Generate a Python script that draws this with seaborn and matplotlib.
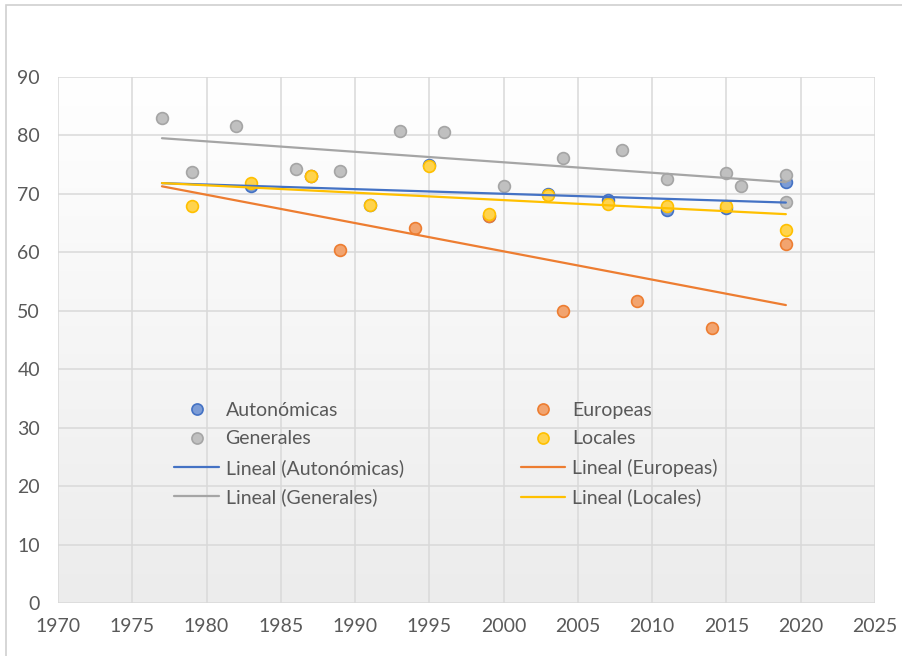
import numpy as np
import pandas as pd
import matplotlib
matplotlib.use("Agg")
import matplotlib.pyplot as plt
from matplotlib.patches import Rectangle
from matplotlib.lines import Line2D
import seaborn as sns

# ---- data ----
aut_years = [1983, 1987, 1991, 1995, 1999, 2003, 2007, 2011, 2015, 2019]
aut_vals = [71.4, 73.0, 68.1, 75.0, 66.3, 70.0, 68.9, 67.2, 67.5, 72.0]

eur_years = [1987, 1989, 1994, 1999, 2004, 2009, 2014, 2019]
eur_vals = [73.0, 60.4, 64.2, 66.3, 49.9, 51.7, 47.1, 61.5]

gen_years = [1977, 1979, 1982, 1986, 1989, 1993, 1996, 2000, 2004, 2008, 2011, 2015, 2016, 2019, 2019]
gen_vals = [82.9, 73.7, 81.7, 74.3, 74.0, 80.7, 80.6, 71.4, 76.1, 77.5, 72.5, 73.6, 71.4, 73.2, 68.6]

loc_years = [1979, 1983, 1987, 1991, 1995, 1999, 2003, 2007, 2011, 2015, 2019]
loc_vals = [67.9, 71.8, 73.0, 68.1, 74.7, 66.5, 69.8, 68.2, 67.9, 68.0, 63.8]

series_names = ["Autonómicas", "Europeas", "Generales", "Locales"]
x_ticks = [1970, 1975, 1980, 1985, 1990, 1995, 2000, 2005, 2010, 2015, 2020, 2025]
y_ticks = [0, 10, 20, 30, 40, 50, 60, 70, 80, 90]

colors = {"Autonómicas": "#4472C4", "Europeas": "#ED7D31",
          "Generales": "#A5A5A5", "Locales": "#FFC000"}

def lighten(c, f):
    rgb = np.array(matplotlib.colors.to_rgb(c))
    return tuple(rgb + (1 - rgb) * f)

df = pd.concat([
    pd.DataFrame({"year": aut_years, "val": aut_vals, "serie": "Autonómicas"}),
    pd.DataFrame({"year": eur_years, "val": eur_vals, "serie": "Europeas"}),
    pd.DataFrame({"year": gen_years, "val": gen_vals, "serie": "Generales"}),
    pd.DataFrame({"year": loc_years, "val": loc_vals, "serie": "Locales"}),
], ignore_index=True)

sns.set_style("white")
plt.rcParams["font.family"] = ["Lato", "DejaVu Sans"]

fig = plt.figure(figsize=(9.03, 6.56), dpi=100)
ax = fig.add_axes([58/903, 53/656, 817/903, 526/656])

# chart-area border (top/left visible)
fig.patches.append(Rectangle((6/903, -0.1), 1.2, (651/656) + 0.1, transform=fig.transFigure,
                             fill=False, edgecolor="#D0D0D0", linewidth=1.2, zorder=0))

# gradient plot background
grad = np.linspace(1.0, 0.0, 256).reshape(-1, 1)
cmap = matplotlib.colors.LinearSegmentedColormap.from_list("bg", ["#ECECEC", "#FFFFFF"])
ax.imshow(grad, extent=[0, 1, 0, 1], transform=ax.transAxes, aspect="auto",
          cmap=cmap, vmin=0, vmax=1, zorder=0)

# scatter points per series (later series drawn on top)
for i, name in enumerate(series_names):
    sub = df[df["serie"] == name]
    sns.scatterplot(data=sub, x="year", y="val", ax=ax, s=72,
                    color=lighten(colors[name], 0.3), edgecolor=colors[name],
                    linewidth=1.2, zorder=3 + i, legend=False)

# linear trend lines over overall x range
xmin, xmax = df["year"].min(), df["year"].max()
xs = np.array([xmin, xmax])
for name in series_names:
    sub = df[df["serie"] == name]
    m, b = np.polyfit(sub["year"], sub["val"], 1)
    ax.plot(xs, m * xs + b, color=colors[name], linewidth=1.6, zorder=8)

ax.set_xlim(1970, 2025)
ax.set_ylim(0, 90)
ax.set_xticks(x_ticks)
ax.set_yticks(y_ticks)
ax.set_xlabel("")
ax.set_ylabel("")
ax.grid(True, color="#D9D9D9", linewidth=1.1, zorder=1)
ax.set_axisbelow(True)
for sp in ax.spines.values():
    sp.set_visible(False)
ax.tick_params(axis="both", length=0, labelsize=14, labelcolor="#595959")
ax.tick_params(axis="y", pad=13)
ax.tick_params(axis="x", pad=11)

# legend
def mk(name):
    return Line2D([], [], marker="o", linestyle="none", markersize=8,
                  markerfacecolor=lighten(colors[name], 0.3),
                  markeredgecolor=colors[name], markeredgewidth=1.2)

def ln(name):
    return Line2D([], [], color=colors[name], linewidth=1.6)

handles = [mk("Autonómicas"), mk("Generales"), ln("Autonómicas"), ln("Generales"),
           mk("Europeas"), mk("Locales"), ln("Europeas"), ln("Locales")]
labels = ["Autonómicas", "Generales", "Lineal (Autonómicas)", "Lineal (Generales)",
          "Europeas", "Locales", "Lineal (Europeas)", "Lineal (Locales)"]
leg = ax.legend(handles, labels, ncol=2, loc="upper left",
                bbox_to_anchor=(0.133, 0.397), frameon=False, fontsize=14,
                handlelength=2.27, handletextpad=0.36, columnspacing=6.05,
                labelspacing=0.59, labelcolor="#595959", borderaxespad=0)
leg.set_zorder(10)

fig.savefig("out.png", dpi=100)
